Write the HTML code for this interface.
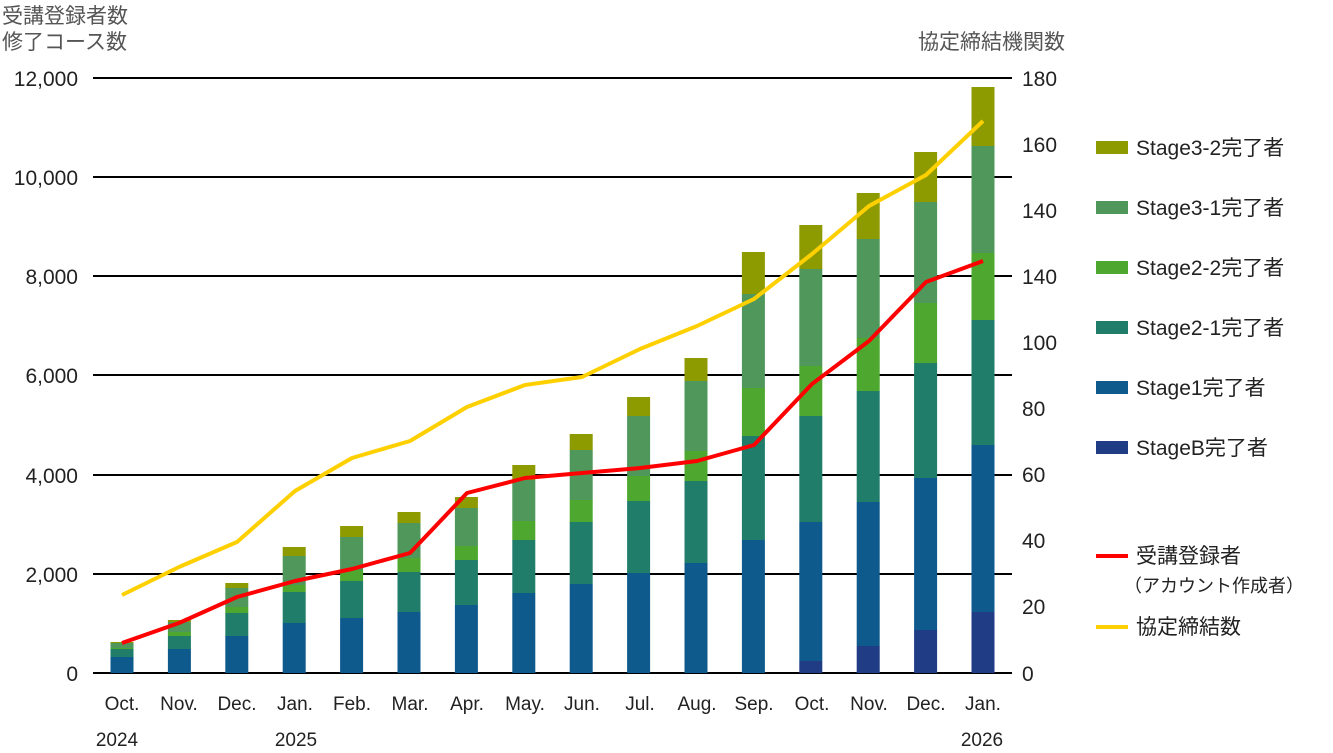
<!DOCTYPE html>
<html><head><meta charset="utf-8"><style>
body{margin:0;background:#fff}
svg text{font-family:"Liberation Sans","Noto Sans CJK JP",sans-serif;fill:#222}
</style></head><body>
<svg width="1333" height="748" viewBox="0 0 1333 748" xmlns="http://www.w3.org/2000/svg">
<g stroke="#000" stroke-width="2">
<line x1="93" y1="78" x2="1012" y2="78"/><line x1="93" y1="177" x2="1012" y2="177"/>
<line x1="93" y1="276" x2="1012" y2="276"/><line x1="93" y1="375" x2="1012" y2="375"/>
<line x1="93" y1="475" x2="1012" y2="475"/><line x1="93" y1="574" x2="1012" y2="574"/>
<line x1="93" y1="673" x2="1012" y2="673"/>
</g>
<g fill="#1f3c85">
<rect x="799.3" y="661" width="23" height="12"/><rect x="856.7" y="646" width="23" height="27"/>
<rect x="914.1" y="630" width="23" height="43"/><rect x="971.5" y="612" width="23" height="61"/>
</g>
<g fill="#0f5a8c">
<rect x="110.5" y="657" width="23" height="16"/><rect x="167.9" y="649" width="23" height="24"/>
<rect x="225.3" y="636" width="23" height="37"/><rect x="282.7" y="623" width="23" height="50"/>
<rect x="340.1" y="618" width="23" height="55"/><rect x="397.5" y="612" width="23" height="61"/>
<rect x="454.9" y="605" width="23" height="68"/><rect x="512.3" y="593" width="23" height="80"/>
<rect x="569.7" y="584" width="23" height="89"/><rect x="627.1" y="573" width="23" height="100"/>
<rect x="684.5" y="563" width="23" height="110"/><rect x="741.9" y="540" width="23" height="133"/>
<rect x="799.3" y="522" width="23" height="139"/><rect x="856.7" y="502" width="23" height="144"/>
<rect x="914.1" y="478" width="23" height="152"/><rect x="971.5" y="445" width="23" height="167"/>
</g>
<g fill="#1f7d69">
<rect x="110.5" y="649" width="23" height="8"/><rect x="167.9" y="636" width="23" height="13"/>
<rect x="225.3" y="613" width="23" height="23"/><rect x="282.7" y="592" width="23" height="31"/>
<rect x="340.1" y="581" width="23" height="37"/><rect x="397.5" y="572" width="23" height="40"/>
<rect x="454.9" y="560" width="23" height="45"/><rect x="512.3" y="540" width="23" height="53"/>
<rect x="569.7" y="522" width="23" height="62"/><rect x="627.1" y="501" width="23" height="72"/>
<rect x="684.5" y="481" width="23" height="82"/><rect x="741.9" y="436" width="23" height="104"/>
<rect x="799.3" y="416" width="23" height="106"/><rect x="856.7" y="391" width="23" height="111"/>
<rect x="914.1" y="363" width="23" height="115"/><rect x="971.5" y="320" width="23" height="125"/>
</g>
<g fill="#4ea72e">
<rect x="110.5" y="648" width="23" height="1"/><rect x="167.9" y="632" width="23" height="4"/>
<rect x="225.3" y="607" width="23" height="6"/><rect x="282.7" y="585" width="23" height="7"/>
<rect x="340.1" y="570" width="23" height="11"/><rect x="397.5" y="558" width="23" height="14"/>
<rect x="454.9" y="546" width="23" height="14"/><rect x="512.3" y="521" width="23" height="19"/>
<rect x="569.7" y="500" width="23" height="22"/><rect x="627.1" y="476" width="23" height="25"/>
<rect x="684.5" y="451" width="23" height="30"/><rect x="741.9" y="388" width="23" height="48"/>
<rect x="799.3" y="366" width="23" height="50"/><rect x="856.7" y="338" width="23" height="53"/>
<rect x="914.1" y="303" width="23" height="60"/><rect x="971.5" y="253" width="23" height="67"/>
</g>
<g fill="#4f975b">
<rect x="110.5" y="643" width="23" height="5"/><rect x="167.9" y="622" width="23" height="10"/>
<rect x="225.3" y="588" width="23" height="19"/><rect x="282.7" y="556" width="23" height="29"/>
<rect x="340.1" y="537" width="23" height="33"/><rect x="397.5" y="523" width="23" height="35"/>
<rect x="454.9" y="508" width="23" height="38"/><rect x="512.3" y="480" width="23" height="41"/>
<rect x="569.7" y="450" width="23" height="50"/><rect x="627.1" y="416" width="23" height="60"/>
<rect x="684.5" y="381" width="23" height="70"/><rect x="741.9" y="294" width="23" height="94"/>
<rect x="799.3" y="269" width="23" height="97"/><rect x="856.7" y="239" width="23" height="99"/>
<rect x="914.1" y="202" width="23" height="101"/><rect x="971.5" y="146" width="23" height="107"/>
</g>
<g fill="#8e9b00">
<rect x="110.5" y="642" width="23" height="1"/><rect x="167.9" y="620" width="23" height="2"/>
<rect x="225.3" y="583" width="23" height="5"/><rect x="282.7" y="547" width="23" height="9"/>
<rect x="340.1" y="526" width="23" height="11"/><rect x="397.5" y="512" width="23" height="11"/>
<rect x="454.9" y="497" width="23" height="11"/><rect x="512.3" y="465" width="23" height="15"/>
<rect x="569.7" y="434" width="23" height="16"/><rect x="627.1" y="397" width="23" height="19"/>
<rect x="684.5" y="358" width="23" height="23"/><rect x="741.9" y="252" width="23" height="42"/>
<rect x="799.3" y="225" width="23" height="44"/><rect x="856.7" y="193" width="23" height="46"/>
<rect x="914.1" y="152" width="23" height="50"/><rect x="971.5" y="87" width="23" height="59"/>
</g>
<polyline fill="none" stroke="#ffd000" stroke-width="4" stroke-linejoin="round" points="122,595 179,567 237,542 295,491 352,458 410,441 467,407 525,385 582,377 640,349 697,326 754,299 812,254 869,206 926,175 983,121"/>
<polyline fill="none" stroke="#ff0000" stroke-width="4" stroke-linejoin="round" points="122,643 179,623 237,597 295,581 352,569 410,553 467,493 525,478 582,473 640,468 697,461 754,445 812,384 869,341 926,282 983,261"/>
<g font-size="21" text-anchor="end">
<text x="78" y="86">12,000</text><text x="78" y="185">10,000</text><text x="78" y="284">8,000</text>
<text x="78" y="383">6,000</text><text x="78" y="483">4,000</text><text x="78" y="582">2,000</text><text x="78" y="681">0</text>
</g>
<g font-size="21">
<text x="1022" y="86">180</text><text x="1022" y="152">160</text><text x="1022" y="218">140</text>
<text x="1022" y="284">140</text><text x="1022" y="350">100</text><text x="1022" y="416">80</text>
<text x="1022" y="482">60</text><text x="1022" y="548">40</text><text x="1022" y="614">20</text><text x="1022" y="681">0</text>
</g>
<g font-size="19" text-anchor="middle">
<text x="122" y="710">Oct.</text><text x="179" y="710">Nov.</text><text x="237" y="710">Dec.</text><text x="295" y="710">Jan.</text>
<text x="352" y="710">Feb.</text><text x="410" y="710">Mar.</text><text x="467" y="710">Apr.</text><text x="525" y="710">May.</text>
<text x="582" y="710">Jun.</text><text x="640" y="710">Jul.</text><text x="697" y="710">Aug.</text><text x="754" y="710">Sep.</text>
<text x="812" y="710">Oct.</text><text x="869" y="710">Nov.</text><text x="926" y="710">Dec.</text><text x="983" y="710">Jan.</text>
<text x="117" y="746">2024</text><text x="296" y="746">2025</text><text x="982" y="746">2026</text>
</g>
<g font-size="21">
<text x="2" y="23" style="fill:#555">受講登録者数</text><text x="2" y="49" style="fill:#555">修了コース数</text>
<text x="1065" y="49" text-anchor="end" style="fill:#555">協定締結機関数</text>
</g>
<g>
<rect x="1096" y="141" width="32" height="13" fill="#8e9b00"/>
<rect x="1096" y="201" width="32" height="13" fill="#4f975b"/>
<rect x="1096" y="261" width="32" height="13" fill="#4ea72e"/>
<rect x="1096" y="321" width="32" height="13" fill="#1f7d69"/>
<rect x="1096" y="381" width="32" height="13" fill="#0f5a8c"/>
<rect x="1096" y="441" width="32" height="13" fill="#1f3c85"/>
<line x1="1096" y1="556" x2="1128" y2="556" stroke="#ff0000" stroke-width="4"/>
<line x1="1096" y1="627" x2="1128" y2="627" stroke="#ffd000" stroke-width="4"/>
</g>
<g font-size="21">
<text x="1136" y="155">Stage3-2完了者</text><text x="1136" y="215">Stage3-1完了者</text>
<text x="1136" y="275">Stage2-2完了者</text><text x="1136" y="335">Stage2-1完了者</text>
<text x="1136" y="395">Stage1完了者</text><text x="1136" y="455">StageB完了者</text>
<text x="1136" y="563">受講登録者</text>
<text x="1124" y="592" font-size="18">（アカウント作成者）</text>
<text x="1136" y="634">協定締結数</text>
</g>
</svg>
</body></html>
